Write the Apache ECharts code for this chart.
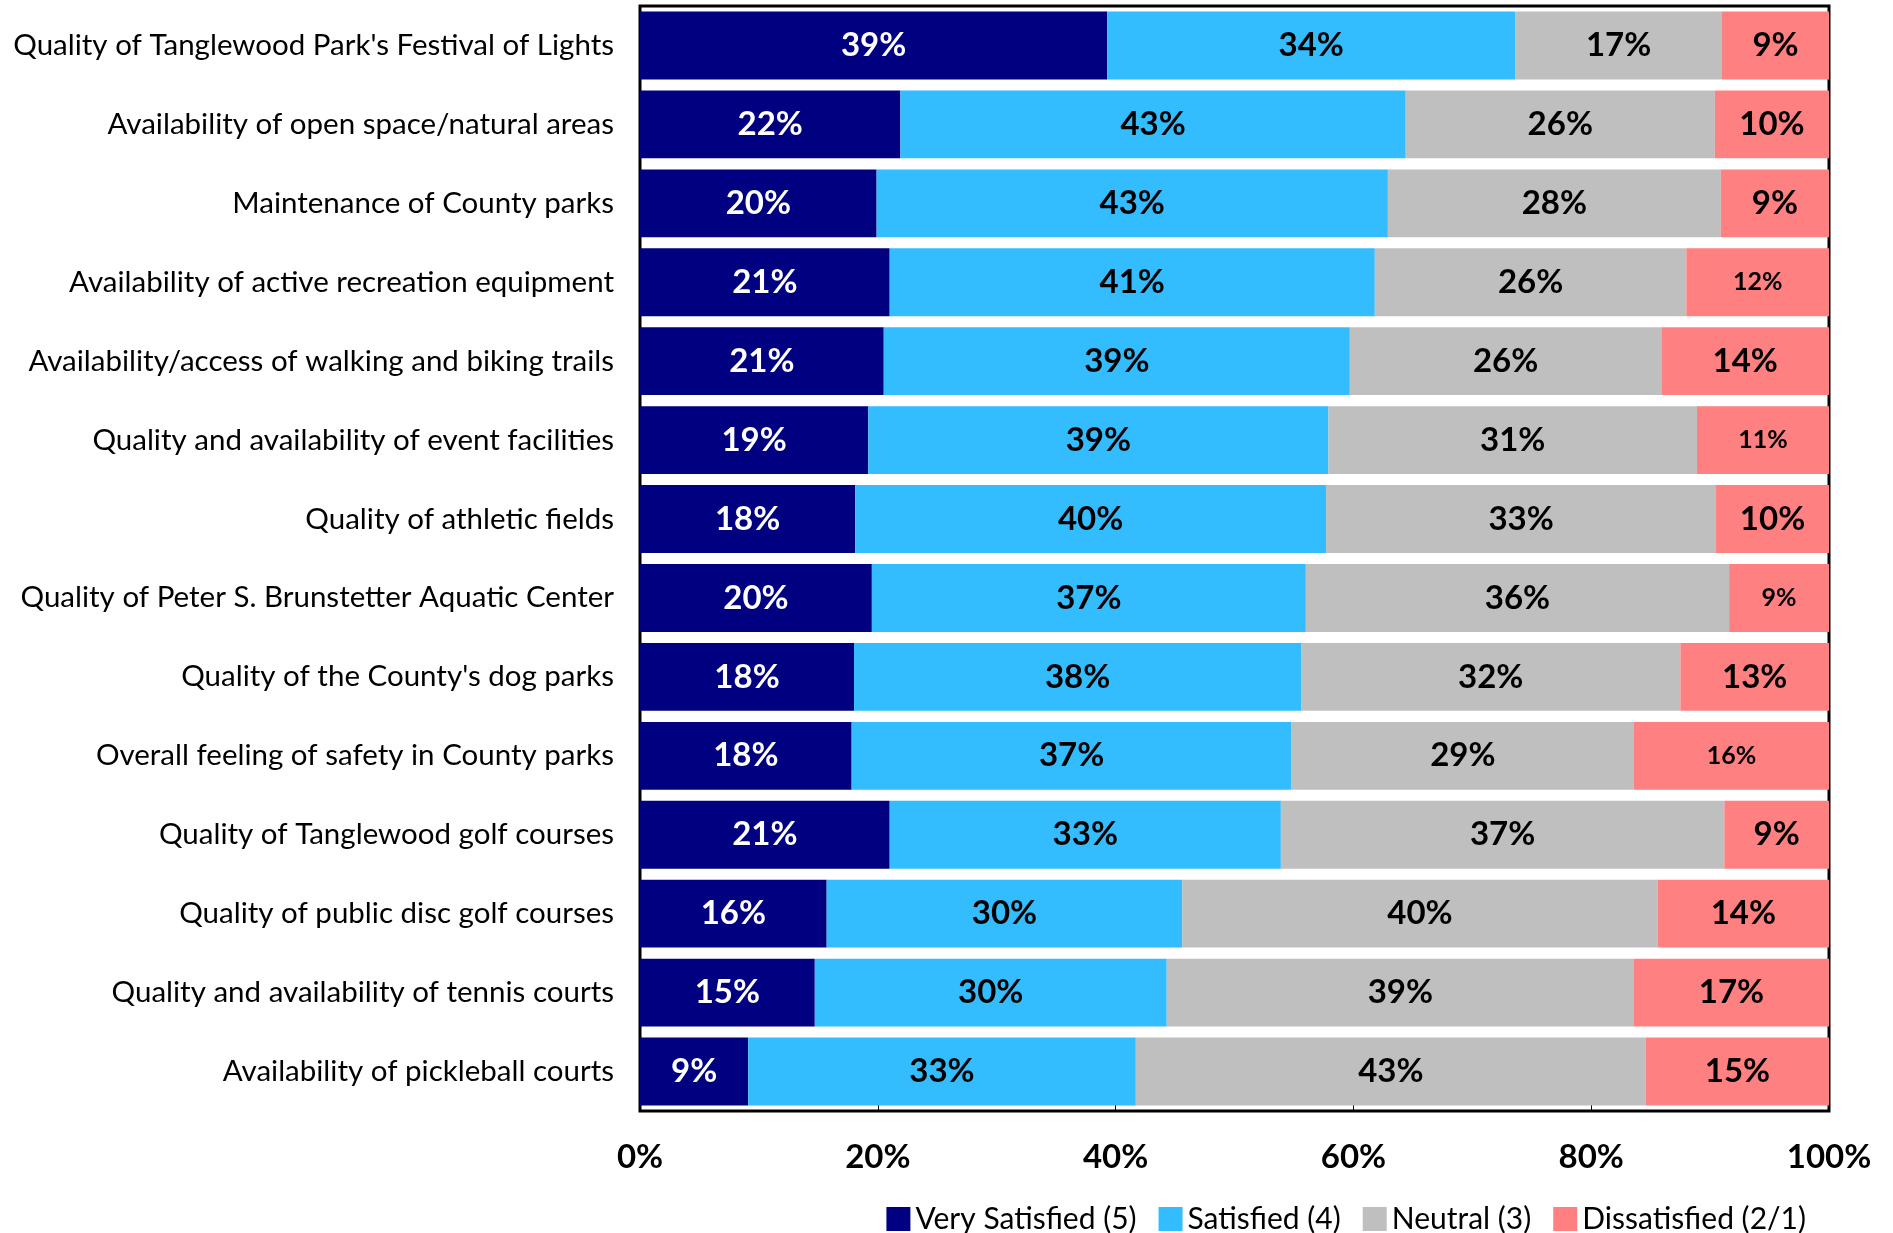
<!DOCTYPE html>
<html lang="en">
<head>
    <meta charset="UTF-8">
    <script src="https://cdn.jsdelivr.net/npm/echarts@6/dist/echarts.min.js"></script>
    <title>Satisfaction with parks</title>
    <style>
        html, body { margin: 0; padding: 0; background: #fff; }
    </style>
</head>
<body>
    <div id="main" style="width: 1893px; height: 1233px;"></div>

    <script>
        var categories = [
            "Quality of Tanglewood Park's Festival of Lights",
            'Availability of open space/natural areas',
            'Maintenance of County parks',
            'Availability of active recreation equipment',
            'Availability/access of walking and biking trails',
            'Quality and availability of event facilities',
            'Quality of athletic fields',
            'Quality of Peter S. Brunstetter Aquatic Center',
            "Quality of the County's dog parks",
            'Overall feeling of safety in County parks',
            'Quality of Tanglewood golf courses',
            'Quality of public disc golf courses',
            'Quality and availability of tennis courts',
            'Availability of pickleball courts'
        ];
        var verySatisfied = [39.3, 21.9, 19.9, 21.0, 20.5, 19.2, 18.1, 19.5, 18.0, 17.8, 21.0, 15.7, 14.7, 9.1];
        var satisfied     = [34.3, 42.5, 43.0, 40.8, 39.2, 38.7, 39.6, 36.5, 37.6, 37.0, 32.9, 29.9, 29.6, 32.6];
        var neutral       = [17.4, 26.0, 28.0, 26.2, 26.2, 31.0, 32.8, 35.6, 31.9, 28.8, 37.3, 40.0, 39.3, 42.9];
        var dissatisfied  = [9.0, 9.6, 9.1, 12.0, 14.1, 11.1, 9.5, 8.5, 12.6, 16.4, 8.8, 14.4, 16.5, 15.4];
        // rows where the dissatisfied label is drawn smaller
        var smallLabelRows = [3, 5, 7, 9];

        var seriesNames = ['Very Satisfied (5)', 'Satisfied (4)', 'Neutral (3)', 'Dissatisfied (2/1)'];
        var colors = ['#000080', '#33bcfe', '#bfbfbf', '#ff8080'];

        var font = 'Lato, "Noto Sans", sans-serif';

        function pct(p) {
            return Math.round(p.value) + '%';
        }

        function makeSeries(name, values, color, labelColor, small) {
            return {
                name: name,
                type: 'bar',
                stack: 'total',
                barCategoryGap: '14%',
                itemStyle: { color: color },
                label: {
                    show: true,
                    position: 'inside',
                    color: labelColor,
                    fontFamily: font,
                    fontWeight: 'bold',
                    fontSize: 33,
                    formatter: pct
                },
                data: values.map(function (v, i) {
                    if (small && smallLabelRows.indexOf(i) >= 0) {
                        return { value: v, label: { fontSize: 25 } };
                    }
                    return v;
                })
            };
        }

        var chart = echarts.init(document.getElementById('main'));
        var option = {
            animation: false,
            color: colors,
            grid: {
                left: 640,
                right: 64,
                top: 6,
                bottom: 122,
                show: true,
                borderColor: '#000',
                borderWidth: 3,
                containLabel: false
            },
            legend: {
                right: 82,
                top: 1199,
                itemWidth: 24,
                itemHeight: 24,
                itemGap: 22,
                icon: 'rect',
                textStyle: { fontFamily: font, fontSize: 30, color: '#000' },
                data: seriesNames
            },
            xAxis: {
                type: 'value',
                min: 0,
                max: 100,
                interval: 20,
                axisLine: { show: false },
                axisTick: { show: true, inside: true, length: 8, lineStyle: { color: '#000' } },
                splitLine: { show: false },
                axisLabel: {
                    formatter: '{value}%',
                    margin: 30,
                    color: '#000',
                    fontFamily: font,
                    fontWeight: 'bold',
                    fontSize: 33
                }
            },
            yAxis: {
                type: 'category',
                inverse: true,
                data: categories,
                axisLine: { show: false },
                axisTick: { show: false },
                axisLabel: {
                    margin: 26,
                    color: '#000',
                    fontFamily: font,
                    fontSize: 29.5
                }
            },
            series: [
                makeSeries(seriesNames[0], verySatisfied, colors[0], '#fff', false),
                makeSeries(seriesNames[1], satisfied, colors[1], '#000', false),
                makeSeries(seriesNames[2], neutral, colors[2], '#000', false),
                makeSeries(seriesNames[3], dissatisfied, colors[3], '#000', true)
            ]
        };
        chart.setOption(option);
    </script>
</body>
</html>
